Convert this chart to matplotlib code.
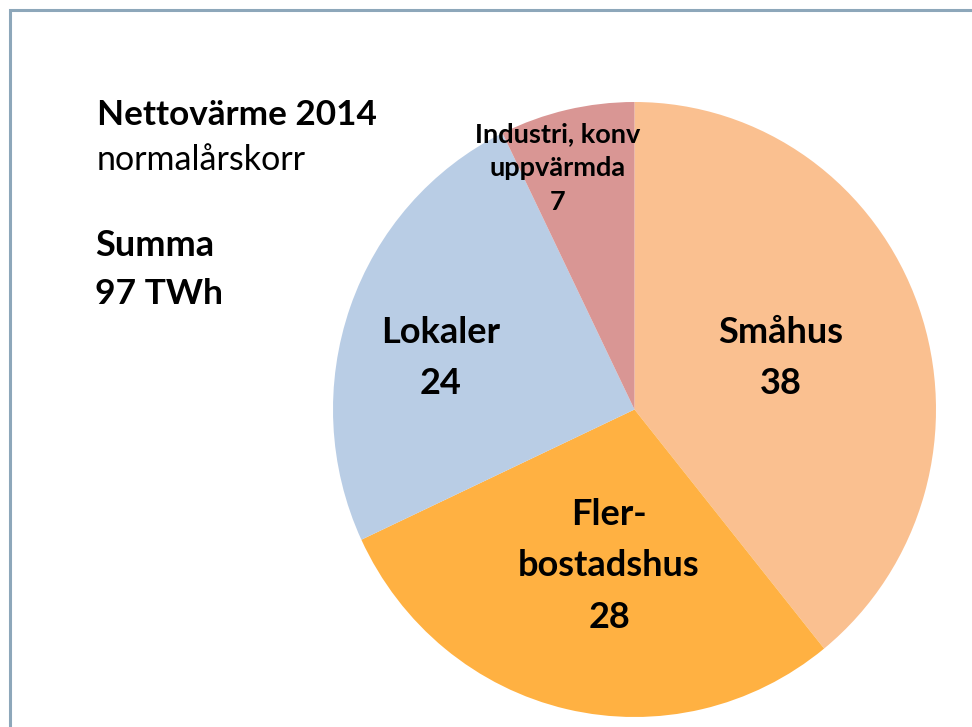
import matplotlib
matplotlib.use("Agg")
import matplotlib.pyplot as plt
from matplotlib.patches import Rectangle

categories = ["Småhus", "Fler-\nbostadshus", "Lokaler", "Industri, konv\nuppvärmda"]
values = [38, 28, 24, 7]
colors = ["#FAC090", "#FFB142", "#B9CDE5", "#D99694"]

plt.rcParams["font.family"] = ["Lato", "DejaVu Sans"]

W, H = 972, 727
fig = plt.figure(figsize=(W / 100, H / 100), dpi=100)
fig.patch.set_facecolor("white")

# frame
fig.add_artist(Rectangle((9.5 / W, -0.1), 1.2, (H - 9.5) / H + 0.1, transform=fig.transFigure,
                         fill=False, edgecolor="#8DA7BA", linewidth=2.2))

cx, cy, rx, ry = 634.5, 409.5, 301.5, 307.5
ax = fig.add_axes([(cx - rx) / W, (H - cy - ry) / H, 2 * rx / W, 2 * ry / H])

wedges, _ = ax.pie(values, colors=colors, startangle=90, counterclock=False, radius=1,
                   wedgeprops=dict(linewidth=0))
ax.set_xlim(-1, 1)
ax.set_ylim(-1, 1)
ax.set_aspect("auto")
ax.axis("off")

def px(x, y):
    return ((x - cx) / rx, (cy - y) / ry)

label_pos = [(781, 358), (609, 566), (441, 358), (558, 168)]
sizes = [26, 26, 26, 19.5]
spacings = [1.68, 1.68, 1.68, 1.5]
for cat, v, (x, y), s, ls in zip(categories, values, label_pos, sizes, spacings):
    ax.text(*px(x, y), f"{cat}\n{v}", ha="center", va="center", fontsize=s,
            fontweight="bold", linespacing=ls, color="black")

fig.text(97 / W, 1 - 115 / H, "Nettovärme 2014", fontsize=25.3, fontweight="bold",
         ha="left", va="center")
fig.text(97 / W, 1 - 160 / H, "normalårskorr", fontsize=24.5, ha="left", va="center")
fig.text(95 / W, 1 - 245 / H, "Summa", fontsize=26, fontweight="bold", ha="left", va="center")
fig.text(95 / W, 1 - 294 / H, "97 TWh", fontsize=25.5, fontweight="bold", ha="left", va="center")

fig.savefig("out.png", dpi=100, facecolor="white")
